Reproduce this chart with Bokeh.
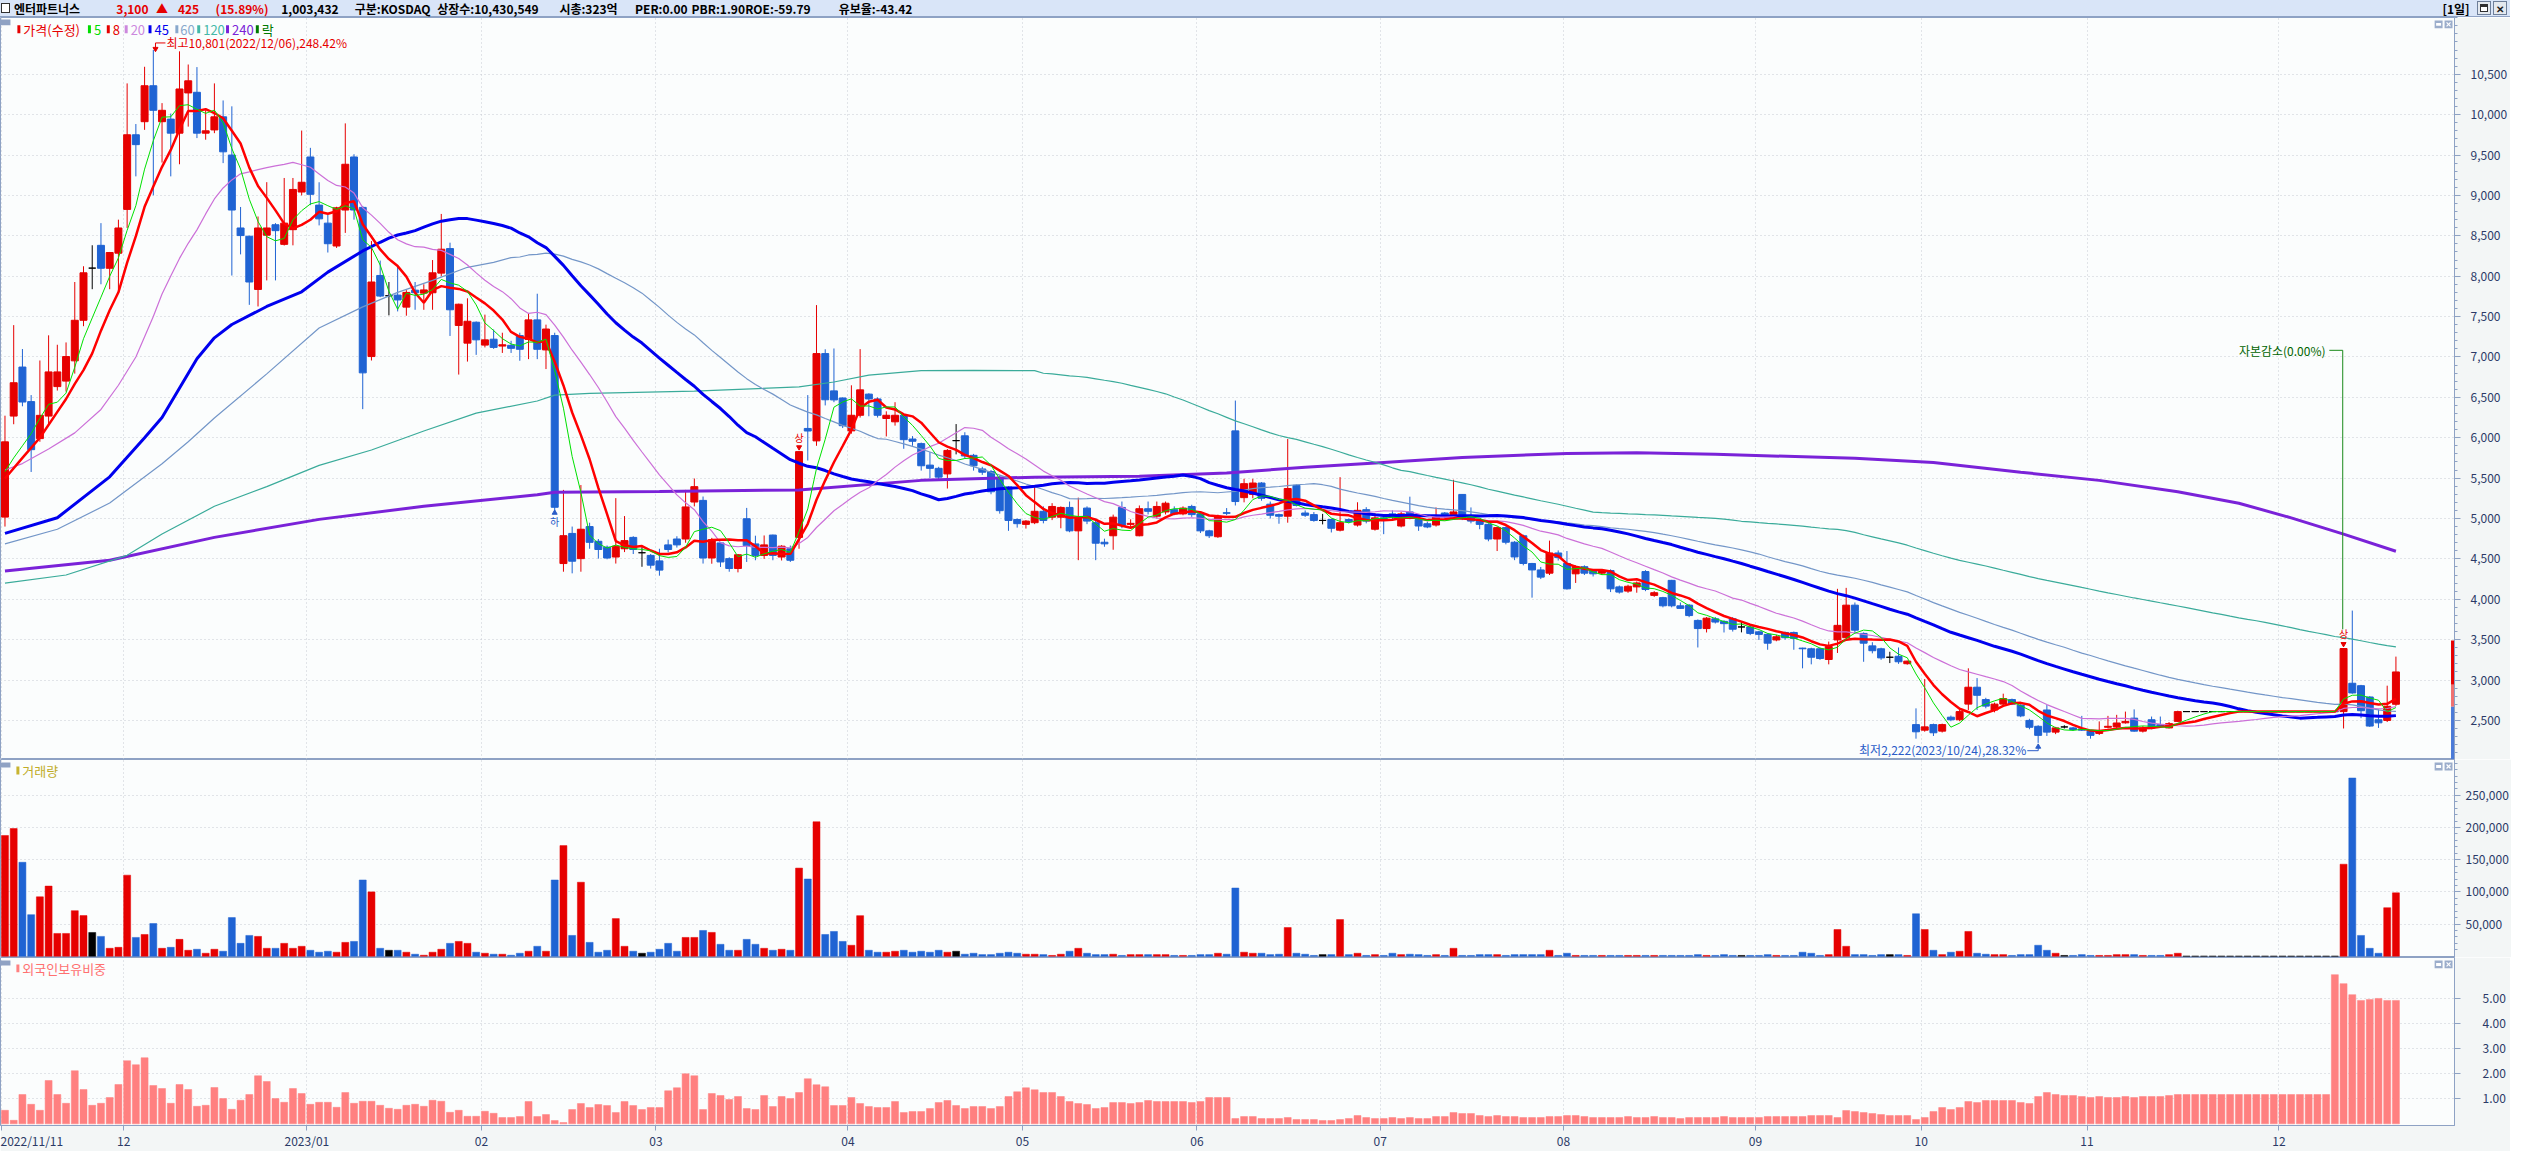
import numpy as np
import pandas as pd
from bokeh.plotting import figure
from bokeh.models import Range1d, FixedTicker, NumeralTickFormatter, CustomJSTickFormatter, Label, Div
from bokeh.layouts import column
from bokeh.embed import file_html
from bokeh.resources import INLINE
from bokeh.core.properties import value

# ------------------------------------------------------------------ data
month_start_idx = [0, 14, 35, 55, 75, 97, 117, 137, 158, 179, 201, 220, 239, 261]
month_labels = ["2022/11/11", "12", "2023/01", "02", "03", "04", "05", "06",
                "07", "08", "09", "10", "11", "12"]

opens = [
    5017, 6268, 6875, 6447, 5989, 6268, 6633, 6701, 6952, 7454,
    8100, 8382, 8098, 8285, 8827, 9751, 9913, 10358, 9913, 9945,
    9771, 10269, 10277, 9771, 9811, 9973, 9500, 8597, 8495, 7836,
    8508, 8637, 8394, 8576, 9042, 9476, 8880, 8657, 8374, 8819,
    9476, 8852, 7005, 8009, 7758, 7766, 7617, 7827, 7790, 7795,
    8038, 8342, 7390, 7171, 7430, 7147, 7220, 7135, 7144, 7265,
    7217, 7459, 7087, 7265, 4442, 4815, 4503, 4900, 4718, 4645,
    4523, 4625, 4766, 4576, 4543, 4475, 4673, 4746, 4746, 5204,
    5224, 4511, 4697, 4503, 4381, 4997, 4685, 4543, 4795, 4523,
    4625, 4766, 6115, 5961, 7042, 6580, 6492, 6085, 6278, 6540,
    6480, 6238, 6197, 6278, 5984, 5927, 5661, 5621, 5552, 5964,
    6024, 5782, 5613, 5581, 5504, 5391, 4988, 4927, 4948, 5089,
    5016, 5016, 5137, 4847, 5129, 4948, 4706, 4786, 5137, 4927,
    4786, 5121, 5028, 5081, 5109, 5057, 5149, 5057, 4847, 4774,
    5072, 6085, 5258, 5298, 5439, 5177, 5048, 5028, 5411, 5068,
    5048, 4976, 4988, 4855, 4988, 4919, 5109, 4867, 5008, 5057,
    4907, 5081, 4988, 4935, 4919, 5068, 5000, 5298, 5016, 4968,
    4927, 4746, 4887, 4706, 4786, 4443, 4363, 4323, 4573, 4443,
    4315, 4403, 4355, 4323, 4355, 4153, 4101, 4153, 4343, 4048,
    4020, 4234, 3919, 3927, 3738, 3637, 3758, 3726, 3758, 3657,
    3657, 3597, 3565, 3496, 3589, 3589, 3395, 3387, 3387, 3254,
    3496, 3524, 3927, 3577, 3423, 3387, 3282, 3294, 3202, 2448,
    2379, 2448, 2367, 2540, 2508, 2702, 2911, 2758, 2629, 2702,
    2758, 2690, 2500, 2427, 2629, 2355, 2419, 2407, 2395, 2367,
    2339, 2415, 2419, 2470, 2528, 2367, 2508, 2448, 2407, 2488,
    2609, 2609, 2609, 2609, 2609, 2609, 2609, 2609, 2609, 2609,
    2609, 2609, 2609, 2609, 2609, 2609, 2609, 2609, 2609, 2960,
    2930, 2790, 2508, 2500, 2700]

highs = [
    6273, 7394, 7098, 6528, 6956, 7268, 7151, 7180, 7928, 8123,
    8383, 8657, 8300, 8700, 10387, 9884, 10593, 10801, 10143, 10014,
    10784, 10621, 10589, 10054, 10387, 10176, 10103, 8857, 8500, 8739,
    9164, 8657, 9216, 9216, 9803, 9589, 9163, 8758, 8860, 9892,
    9510, 8870, 8435, 8193, 7928, 8130, 7827, 7928, 7900, 8200,
    8771, 8415, 7660, 7726, 7440, 7524, 7340, 7300, 7200, 7300,
    7540, 7783, 7400, 7300, 5354, 4900, 5414, 4948, 4746, 4665,
    5252, 5030, 4780, 4645, 4560, 4625, 4738, 4780, 5354, 5495,
    5272, 4760, 4710, 4520, 4560, 5131, 4787, 4790, 4800, 4670,
    4665, 5828, 6528, 7642, 7095, 7105, 6500, 6649, 7097, 6550,
    6500, 6327, 6440, 6290, 6020, 5940, 5822, 5640, 5860, 6169,
    6068, 5800, 5640, 5600, 5530, 5400, 5000, 4980, 5391, 5150,
    5190, 5150, 5210, 5258, 5150, 5000, 4750, 5048, 5210, 4990,
    5161, 5210, 5210, 5210, 5150, 5150, 5170, 5080, 4860, 5048,
    5129, 6460, 5492, 5492, 5450, 5210, 5060, 5984, 5420, 5100,
    5080, 5057, 5000, 5512, 5000, 5201, 5140, 5068, 5020, 5100,
    5080, 5270, 5000, 4960, 5137, 5080, 5480, 5300, 5137, 4980,
    4940, 4900, 4900, 4720, 4800, 4450, 4400, 4726, 4605, 4597,
    4420, 4420, 4370, 4370, 4370, 4170, 4180, 4220, 4360, 4100,
    4030, 4240, 3960, 3940, 3750, 3780, 3780, 3740, 3780, 3720,
    3680, 3610, 3580, 3560, 3600, 3600, 3400, 3400, 3400, 3476,
    4129, 4141, 3960, 3590, 3468, 3400, 3350, 3403, 3240, 2649,
    3012, 2460, 2460, 2560, 2640, 3145, 3024, 2780, 2720, 2831,
    2770, 2700, 2520, 2440, 2690, 2420, 2440, 2420, 2556, 2380,
    2488, 2556, 2569, 2609, 2637, 2430, 2548, 2548, 2480, 2620,
    2609, 2609, 2609, 2609, 2609, 2609, 2609, 2609, 2609, 2609,
    2609, 2609, 2609, 2609, 2609, 2609, 2609, 2609, 3390, 3860,
    2940, 2800, 2637, 2930, 3290]

lows = [
    4900, 6167, 6389, 5576, 5950, 6167, 6584, 6571, 6794, 7381,
    7839, 7900, 7839, 7830, 8597, 9236, 9812, 9001, 9407, 9236,
    9386, 9852, 9710, 9690, 9771, 9400, 8008, 8270, 7645, 7625,
    7948, 7948, 8380, 8382, 9000, 8880, 8629, 8293, 8350, 8536,
    8700, 6354, 6956, 7740, 7515, 7564, 7511, 7584, 7584, 7584,
    8000, 7260, 6782, 6943, 7026, 7118, 7100, 7050, 7050, 6953,
    6973, 6973, 6850, 5090, 4341, 4321, 4341, 4625, 4503, 4495,
    4442, 4584, 4560, 4402, 4380, 4292, 4580, 4640, 4700, 5150,
    4442, 4440, 4400, 4341, 4333, 4462, 4483, 4500, 4483, 4480,
    4462, 4625, 5718, 5900, 6400, 6440, 6120, 6050, 6250, 6266,
    6250, 6016, 6150, 5863, 5900, 5593, 5500, 5472, 5371, 5794,
    5740, 5593, 5540, 5300, 5060, 4847, 4887, 4875, 4930, 4940,
    4980, 4879, 4830, 4484, 4930, 4484, 4650, 4613, 4880, 4880,
    4780, 5050, 5000, 5050, 5040, 5040, 5020, 4820, 4758, 4760,
    5040, 5161, 5200, 5250, 5220, 5000, 4935, 4948, 5150, 5020,
    4960, 4927, 4827, 4840, 4940, 4900, 4940, 4850, 4806, 4980,
    4890, 4990, 4847, 4880, 4900, 5000, 4990, 4980, 4940, 4867,
    4718, 4597, 4680, 4484, 4420, 4020, 4250, 4300, 4480, 4120,
    4202, 4300, 4282, 4300, 4089, 4070, 4080, 4081, 4100, 4030,
    3900, 3900, 3880, 3778, 3403, 3589, 3700, 3589, 3600, 3590,
    3556, 3496, 3375, 3480, 3500, 3375, 3145, 3194, 3250, 3194,
    3335, 3500, 3580, 3226, 3330, 3250, 3210, 3200, 3190, 2274,
    2360, 2307, 2350, 2490, 2490, 2629, 2629, 2650, 2600, 2690,
    2690, 2540, 2390, 2222, 2307, 2330, 2400, 2370, 2370, 2274,
    2320, 2400, 2400, 2460, 2360, 2350, 2390, 2420, 2400, 2480,
    2609, 2609, 2609, 2609, 2609, 2609, 2609, 2609, 2609, 2609,
    2609, 2609, 2609, 2609, 2609, 2609, 2609, 2609, 2400, 2830,
    2528, 2420, 2407, 2480, 2680]

closes = [
    5949, 6681, 6442, 5852, 6277, 6815, 6815, 7005, 7454, 8042,
    8100, 8098, 8293, 8597, 9751, 9629, 10358, 10054, 10054, 9771,
    10318, 10419, 9771, 9800, 9973, 9540, 8819, 8503, 7928, 8597,
    8597, 8564, 8657, 9074, 9163, 9014, 8710, 8402, 8847, 9386,
    8819, 6803, 7928, 7754, 7758, 7706, 7799, 7795, 7830, 8042,
    8334, 7584, 7653, 7442, 7212, 7212, 7118, 7151, 7107, 7095,
    7459, 7095, 7346, 5139, 4787, 4471, 4867, 4705, 4616, 4511,
    4657, 4726, 4616, 4576, 4422, 4361, 4616, 4673, 5143, 5394,
    4511, 4738, 4462, 4381, 4551, 4665, 4543, 4673, 4543, 4657,
    4483, 5828, 6083, 7042, 6470, 6468, 6149, 6278, 6593, 6480,
    6278, 6278, 6278, 5976, 5956, 5653, 5621, 5512, 5843, 5964,
    5774, 5653, 5573, 5331, 5097, 4976, 4936, 4968, 5089, 4976,
    5149, 5137, 4847, 5016, 4968, 4694, 4686, 5016, 4915, 4940,
    5121, 5089, 5149, 5189, 5057, 5129, 5048, 4847, 4786, 5028,
    5064, 5210, 5431, 5439, 5250, 5040, 5028, 5371, 5161, 5040,
    4976, 4976, 4879, 4948, 4960, 5101, 4968, 5008, 4988, 5016,
    5057, 5000, 4907, 4895, 5028, 5028, 5081, 5008, 4968, 4927,
    4746, 4887, 4706, 4524, 4443, 4363, 4274, 4573, 4516, 4129,
    4403, 4323, 4315, 4355, 4129, 4089, 4161, 4202, 4121, 4081,
    3919, 3919, 3887, 3798, 3637, 3766, 3718, 3698, 3629, 3657,
    3577, 3565, 3456, 3536, 3524, 3516, 3387, 3282, 3266, 3415,
    3677, 3927, 3617, 3456, 3363, 3274, 3282, 3226, 3234, 2359,
    2420, 2347, 2448, 2508, 2609, 2911, 2811, 2677, 2702, 2770,
    2702, 2556, 2415, 2315, 2355, 2407, 2419, 2387, 2379, 2315,
    2367, 2427, 2468, 2488, 2367, 2407, 2407, 2428, 2460, 2609,
    2609, 2609, 2609, 2609, 2609, 2609, 2609, 2609, 2609, 2609,
    2609, 2609, 2609, 2609, 2609, 2609, 2609, 2609, 3390, 2840,
    2620, 2430, 2470, 2675, 3100]

volumes = [
    187700, 198500, 146000, 64600, 92300, 109000, 35400, 35400, 70800, 63100,
    36900, 30800, 12300, 13800, 126000, 29200, 33800, 50800, 12300, 13800,
    26200, 9200, 10800, 4600, 10800, 7700, 60000, 20000, 32300, 30800,
    12300, 12300, 20000, 12300, 15400, 9200, 6200, 7700, 6200, 21500,
    23000, 118500, 100000, 12300, 9200, 9200, 6200, 3100, 1500, 6200,
    10800, 20000, 23000, 20000, 6200, 4600, 3100, 3100, 1500, 4600,
    7700, 15400, 7700, 118500, 172000, 32300, 115000, 21500, 6200, 9200,
    58500, 15400, 7700, 4600, 6200, 10800, 20000, 7700, 29200, 29200,
    40000, 37000, 18500, 9200, 9200, 26200, 18500, 12300, 9200, 10800,
    9200, 137000, 120000, 209000, 33800, 38500, 23000, 17000, 63000, 9200,
    6200, 6200, 7700, 9200, 6200, 7700, 6200, 9200, 6200, 7700,
    3100, 4600, 2500, 2500, 4600, 6200, 4600, 3100, 3100, 2500,
    1200, 3100, 7700, 12300, 4600, 2500, 2500, 3100, 1200, 2500,
    2500, 2500, 2500, 2500, 1200, 1200, 1200, 2500, 2500, 4600,
    3100, 106000, 6200, 4600, 4600, 2500, 3100, 44600, 4600, 3100,
    1200, 2500, 2500, 57000, 2500, 4600, 1200, 2500, 1200, 4600,
    2500, 3100, 2500, 1200, 2500, 1200, 12300, 1200, 1200, 2500,
    2500, 2500, 1200, 2500, 2500, 2500, 2500, 9200, 1200, 4600,
    1200, 1200, 1200, 1200, 1200, 1200, 1200, 1200, 1200, 1200,
    1200, 1200, 1200, 1200, 2500, 1200, 1200, 2500, 1200, 1200,
    1200, 1200, 2500, 1200, 1200, 1200, 6200, 4600, 1200, 2500,
    41500, 15400, 2500, 2500, 1200, 2500, 2500, 2500, 1200, 66000,
    41500, 9200, 2500, 6200, 7700, 38500, 4600, 3100, 2500, 2500,
    1200, 2500, 2500, 17000, 9200, 4600, 1200, 1200, 2500, 1200,
    1200, 1200, 2500, 2500, 2500, 1200, 1200, 1200, 2500, 4600,
    0, 0, 0, 0, 0, 0, 0, 0, 0, 0,
    0, 0, 0, 0, 0, 0, 0, 0, 143000, 277000,
    32300, 12300, 4600, 75400, 98500]

foreign = [
    0.54, 0.14, 1.17, 0.78, 0.54, 1.73, 1.17, 0.82, 2.12, 1.37,
    0.74, 0.82, 1.05, 1.57, 2.52, 2.36, 2.64, 1.53, 1.41, 0.82,
    1.57, 1.37, 0.70, 0.74, 1.45, 1.01, 0.58, 0.94, 1.17, 1.92,
    1.69, 1.01, 0.86, 1.41, 1.21, 0.78, 0.86, 0.86, 0.66, 1.25,
    0.82, 0.90, 0.90, 0.74, 0.62, 0.58, 0.74, 0.78, 0.70, 0.94,
    0.90, 0.46, 0.54, 0.30, 0.30, 0.50, 0.42, 0.25, 0.25, 0.29,
    0.89, 0.29, 0.37, 0.13, 0.05, 0.57, 0.81, 0.65, 0.77, 0.73,
    0.45, 0.89, 0.73, 0.57, 0.65, 0.65, 1.32, 1.44, 2.00, 1.92,
    0.57, 1.21, 1.13, 0.97, 1.09, 0.61, 0.57, 1.13, 0.69, 1.09,
    1.01, 1.25, 1.80, 1.56, 1.48, 0.73, 0.73, 1.05, 0.81, 0.69,
    0.65, 0.65, 0.89, 0.45, 0.49, 0.49, 0.61, 0.85, 0.93, 0.73,
    0.61, 0.69, 0.69, 0.61, 0.69, 1.09, 1.28, 1.44, 1.36, 1.25,
    1.25, 1.09, 0.89, 0.81, 0.77, 0.61, 0.65, 0.85, 0.85, 0.81,
    0.85, 0.93, 0.89, 0.89, 0.89, 0.89, 0.85, 0.89, 1.05, 1.05,
    1.05, 0.21, 0.29, 0.29, 0.21, 0.21, 0.21, 0.25, 0.17, 0.17,
    0.17, 0.13, 0.13, 0.17, 0.21, 0.33, 0.25, 0.21, 0.21, 0.25,
    0.21, 0.25, 0.21, 0.21, 0.29, 0.29, 0.45, 0.41, 0.41, 0.33,
    0.29, 0.33, 0.29, 0.29, 0.25, 0.25, 0.25, 0.29, 0.29, 0.33,
    0.33, 0.29, 0.25, 0.25, 0.25, 0.25, 0.29, 0.25, 0.25, 0.29,
    0.25, 0.25, 0.21, 0.25, 0.25, 0.25, 0.25, 0.29, 0.25, 0.25,
    0.25, 0.25, 0.29, 0.29, 0.29, 0.29, 0.29, 0.33, 0.33, 0.33,
    0.25, 0.53, 0.49, 0.45, 0.41, 0.37, 0.33, 0.33, 0.33, 0.17,
    0.25, 0.49, 0.65, 0.57, 0.65, 0.89, 0.85, 0.93, 0.93, 0.93,
    0.93, 0.85, 0.81, 1.09, 1.25, 1.17, 1.13, 1.13, 1.09, 1.05,
    1.09, 1.05, 1.05, 1.09, 1.05, 1.09, 1.09, 1.09, 1.13, 1.17,
    1.17, 1.17, 1.17, 1.17, 1.17, 1.17, 1.17, 1.17, 1.17, 1.17,
    1.17, 1.17, 1.17, 1.17, 1.17, 1.17, 1.17, 5.96, 5.60, 5.16,
    4.93, 4.97, 5.01, 4.93, 4.93]

ma5_head_idx = [0, 1, 2, 3]
ma5_head_val = [5580, 5750, 5900, 6050]
ma8_head_idx = [0, 2, 4, 6]
ma8_head_val = [5495, 5750, 6000, 6320]
ma20_head_idx = [0, 2, 5, 8, 11, 13, 15, 17, 18]
ma20_head_val = [5600, 5680, 5860, 6060, 6350, 6650, 7000, 7500, 7780]
ma45_head_idx = [0, 6, 12, 16, 18, 22, 24, 26, 30, 34, 37, 41, 43]
ma45_head_val = [4815, 5009, 5516, 6000, 6250, 6977, 7237, 7402, 7625, 7807, 8050, 8313, 8420]
ma60_head_idx = [0, 6, 12, 18, 21, 24, 30, 36, 41, 45, 49, 53, 56, 58]
ma60_head_val = [4685, 4867, 5191, 5677, 5950, 6244, 6791, 7358, 7620, 7800, 7949, 8110, 8171, 8230]
ma120_head_idx = [0, 7, 14, 18, 24, 30, 36, 42, 48, 54, 61, 63, 67, 79, 91, 95, 99, 105, 111, 118]
ma120_head_val = [4199, 4300, 4544, 4807, 5151, 5394, 5657, 5848, 6083, 6305, 6455, 6528,
                  6549, 6577, 6629, 6690, 6774, 6830, 6834, 6830]
ma240_idx = [0, 12, 24, 36, 48, 61, 63, 75, 91, 105, 118, 130, 140, 149, 158, 167, 179,
             187, 196, 212, 221, 231, 240, 249, 256, 262, 268, 274]
ma240_val = [4349, 4483, 4766, 4989, 5151, 5293, 5325, 5335, 5354, 5472, 5512, 5524, 5564,
             5633, 5693, 5754, 5806, 5814, 5794, 5746, 5693, 5573, 5472, 5331, 5189, 5008,
             4806, 4595]

# today's range bar at right edge (read)
today_red = (2940, 3490)
today_pink = (2670, 2940)
today_blue = (2016, 2670)

# ------------------------------------------------------------------ style / geometry
KF = "Noto Sans CJK KR"
RED = "#e60000"
BLUE = "#1f63d3"
BLACK = "#000000"
BG = "#fbfdfd"
AXBG = "#f3f6f6"
BORDER = "#8ea2c4"
GRID = "#c6cbd2"
LABC = "#2b3a67"

TOTAL_W = 2510
FRAME_W = 2454
AX_W = 56
H_HEAD = 17
H_PRICE = 742
H_VOL = 198
H_FR = 168
H_XAX = 24

REF_W = 2470.0
SP = 8.783
X0 = -4.5 / SP
X1 = (REF_W - 4.5) / SP
P_TOP, P_BOT = 11203.0, 2016.0
V_TOP, V_BOT = 305800.0, -2000.0
F_TOP, F_BOT = 6.645, -0.067


def px2x(px):
    return X0 + px / REF_W * (X1 - X0)


def py2p(py):
    return P_TOP - (py - 17.0) / 758.0 * (P_TOP - P_BOT)


def py2v(py):
    return V_TOP - (py - 776.0) / 199.0 * (V_TOP - V_BOT)


def py2f(py):
    return F_TOP - (py - 976.0) / 170.0 * (F_TOP - F_BOT)


N = min(len(opens), len(highs), len(lows), len(closes), len(volumes), len(foreign))
o = np.array(opens[:N], float)
h = np.array(highs[:N], float)
l = np.array(lows[:N], float)
c = np.array(closes[:N], float)
vol = np.array(volumes[:N], float)
fr = np.array(foreign[:N], float)
idx = np.arange(N)
cols = np.where(c > o, RED, np.where(c < o, BLUE, BLACK))

xr = Range1d(X0, X1)
month_pos = [i - 0.4 for i in month_start_idx]


def base_fig(fh, yr, with_xaxis=False):
    p = figure(frame_width=FRAME_W, frame_height=fh, x_range=xr, y_range=yr,
               y_axis_location="right", x_axis_location=("below" if with_xaxis else None),
               toolbar_location=None, output_backend="svg",
               min_border_left=0, min_border_right=AX_W, min_border_top=0,
               min_border_bottom=(H_XAX if with_xaxis else 0),
               background_fill_color=BG, border_fill_color=AXBG,
               outline_line_color=BORDER, outline_line_width=1)
    p.xgrid.ticker = FixedTicker(ticks=month_pos)
    for g in (p.xgrid, p.ygrid):
        g.grid_line_color = GRID
        g.grid_line_dash = "1 3"
        g.grid_line_width = 1
    return p


def style_yaxis(p, ticks, minor, fmt, standoff):
    ax = p.yaxis[0]
    ax.ticker = FixedTicker(ticks=ticks, minor_ticks=minor)
    ax.formatter = fmt
    ax.axis_line_color = BORDER
    ax.major_tick_line_color = BORDER
    ax.minor_tick_line_color = BORDER
    ax.major_tick_out = 6
    ax.major_tick_in = 0
    ax.minor_tick_out = 3
    ax.minor_tick_in = 0
    ax.major_label_text_font = KF
    ax.major_label_text_font_size = "12px"
    ax.major_label_text_color = LABC
    ax.major_label_standoff = standoff
    p.ygrid.ticker = FixedTicker(ticks=ticks)


def txt(p, fx, fy, x, y, s, color, size="12px", align="left", style="normal", base="middle"):
    p.text(x=[fx(x)], y=[fy(y)], text=[s], text_color=color, text_font=value(KF),
           text_font_size=value(size), text_font_style=value(style),
           text_align=align, text_baseline=base)


def box(p, fx, fy, x0, x1, y0, y1, fill, line=None):
    p.quad(left=[fx(x0)], right=[fx(x1)], top=[fy(y0)], bottom=[fy(y1)],
           fill_color=fill, line_color=line)


def win_buttons(p, fy, ytop):
    for x0 in (2450, 2460):
        box(p, px2x, fy, x0, x0 + 8, ytop, ytop + 8, "#9badcb", None)
    box(p, px2x, fy, 2451.5, 2456.5, ytop + 2.5, ytop + 5.5, "#ffffff", None)
    p.segment(x0=[px2x(2462), px2x(2462)], y0=[fy(ytop + 2), fy(ytop + 6)],
              x1=[px2x(2466), px2x(2466)], y1=[fy(ytop + 6), fy(ytop + 2)],
              line_color="#ffffff", line_width=1.2)


# ------------------------------------------------------------------ header bar (HTML)
hs = TOTAL_W / 2526.0
head_items = [
    (14, "엔터파트너스", "#000000"),
    (117, "3,100", RED), (157, "▲", RED), (179, "425", RED), (217, "(15.89%)", RED),
    (283, "1,003,432", "#000000"), (357, "구분:KOSDAQ", "#000000"),
    (440, "상장수:10,430,549", "#000000"), (563, "시총:323억", "#000000"),
    (639, "PER:0.00", "#000000"), (696, "PBR:1.90", "#000000"),
    (750, "ROE:-59.79", "#000000"), (844, "유보율:-43.42", "#000000"),
    (2458, "[1일]", "#000000"),
]
spans = []
spans.append('<span style="position:absolute;left:1px;top:3px;width:9px;height:10px;'
             'background:#ffffff;border:1px solid #303030;box-sizing:border-box;"></span>')
for x, s, col in head_items:
    spans.append(f'<span style="position:absolute;left:{x * hs:.1f}px;top:0px;color:{col};">{s}</span>')
for x0 in (2493, 2509):
    spans.append(f'<span style="position:absolute;left:{x0 * hs:.1f}px;top:1px;width:14px;height:14px;'
                 'background:#e4e9ef;border:1px solid #6e7f99;box-sizing:border-box;"></span>')
spans.append(f'<span style="position:absolute;left:{2496 * hs:.1f}px;top:4px;width:8px;height:8px;'
             'background:#ffffff;border:1px solid #303030;border-top:3px solid #303030;'
             'box-sizing:border-box;"></span>')
spans.append(f'<span style="position:absolute;left:{2511.5 * hs:.1f}px;top:0px;font-size:10px;'
             'color:#202020;">✕</span>')
head_html = ('<div style="position:relative;width:%dpx;height:%dpx;background:#d9e5f8;'
             'border-bottom:1px solid #8ea2c4;box-sizing:border-box;font-family:\'Noto Sans CJK KR\';'
             'font-size:12px;font-weight:bold;line-height:17px;white-space:nowrap;">%s</div>'
             % (TOTAL_W, H_HEAD, "".join(spans)))
ph = Div(text=head_html, width=TOTAL_W, height=H_HEAD, margin=(0, 0, 0, 0))

# ------------------------------------------------------------------ price panel
pp = base_fig(H_PRICE, Range1d(P_BOT, P_TOP))
style_yaxis(pp, list(range(2500, 10501, 500)), list(range(2100, 11201, 100)),
            NumeralTickFormatter(format="0,0"), 10)

cs = pd.Series(c)


def ma_line(n, head_idx, head_val):
    m = cs.rolling(n).mean()
    xs = list(head_idx) + list(range(n - 1, N))
    ys = list(head_val) + list(m.iloc[n - 1:].values)
    return xs, ys


# candles
pp.segment(x0=idx, y0=l, x1=idx, y1=h, line_color=cols, line_width=1)
pp.vbar(x=idx, width=0.8, top=np.maximum(o, c), bottom=np.minimum(o, c),
        fill_color=cols, line_color=cols, line_width=1)

# moving averages
pp.line(x=ma240_idx, y=ma240_val, line_color="#7a22d8", line_width=3)
x120, y120 = ma_line(120, ma120_head_idx, ma120_head_val)
pp.line(x=x120, y=y120, line_color="#3aab9a", line_width=1.2)
x60, y60 = ma_line(60, ma60_head_idx, ma60_head_val)
pp.line(x=x60, y=y60, line_color="#7396c8", line_width=1.2)
x45, y45 = ma_line(45, ma45_head_idx, ma45_head_val)
pp.line(x=x45, y=y45, line_color="#0000ee", line_width=3)
x20, y20 = ma_line(20, ma20_head_idx, ma20_head_val)
pp.line(x=x20, y=y20, line_color="#cc70d8", line_width=1.2)
x8, y8 = ma_line(8, ma8_head_idx, ma8_head_val)
pp.line(x=x8, y=y8, line_color="#ff0000", line_width=2.5)
x5, y5 = ma_line(5, ma5_head_idx, ma5_head_val)
pp.line(x=x5, y=y5, line_color="#00e000", line_width=1)

# legend row
box(pp, px2x, py2p, 0, 10, 19, 25, "#8fa2c3")
legend_items = [
    (17, 23, "가격(수정)", RED, RED),
    (88, 94, "5", "#00dd00", "#00dd00"),
    (107, 113, "8", RED, RED),
    (125, 131, "20", "#cc88dd", "#cc88dd"),
    (149, 155, "45", "#0000ee", "#0000ee"),
    (176, 181, "60", "#88a8cc", "#88a8cc"),
    (198, 204, "120", "#44b8a8", "#44b8a8"),
    (227, 233, "240", "#7a22d8", "#7a22d8"),
    (257, 263, "락", "#007a00", "#007a00"),
]
for bx, tx, s, bc, tc in legend_items:
    box(pp, px2x, py2p, bx, bx + 3, 25, 33, bc)
    txt(pp, px2x, py2p, tx, 29.5, s, tc, size="13px")

# high annotation
txt(pp, px2x, py2p, 167, 43, "최고10,801(2022/12/06),248.42%", RED, size="12px")
pp.line(x=[px2x(166), px2x(156), px2x(156)], y=[py2p(43), py2p(43), py2p(48)],
        line_color=RED, line_width=1)
pp.scatter(x=[px2x(156)], y=[py2p(49)], marker="inverted_triangle", size=5,
           fill_color=RED, line_color=RED)

# low annotation
txt(pp, px2x, py2p, 2039, 765, "최저2,222(2023/10/24),28.32%", "#2a5cc8", size="12px", align="right")
pp.line(x=[px2x(2040), px2x(2051), px2x(2051)], y=[py2p(766), py2p(766), py2p(763)],
        line_color="#2a5cc8", line_width=1)
pp.scatter(x=[px2x(2051)], y=[py2p(762)], marker="triangle", size=5,
           fill_color="#2a5cc8", line_color="#2a5cc8")

# capital reduction annotation
txt(pp, px2x, py2p, 2253, 357, "자본감소(0.00%)", "#006400", size="12px")
pp.line(x=[px2x(2344), px2x(2357.5), px2x(2357.5)], y=[py2p(357), py2p(357), py2p(642)],
        line_color="#1a8a1a", line_width=1)

# limit up / down marks
for cx, ty, ay in ((803.8, 446, 456), (2358.3, 646, 657)):
    txt(pp, px2x, py2p, cx, ty, "상", RED, size="10px", align="center")
    pp.scatter(x=[px2x(cx)], y=[py2p(ay)], marker="inverted_triangle", size=5,
               fill_color=RED, line_color=RED)
pp.scatter(x=[px2x(557.8)], y=[py2p(523)], marker="triangle", size=5,
           fill_color="#2a5cc8", line_color="#2a5cc8")
txt(pp, px2x, py2p, 557.8, 532, "하", "#2a5cc8", size="10px", align="center")

# today's range bar at the right edge
for (lo, hi), colr in ((today_red, RED), (today_pink, "#f07070"), (today_blue, "#4a7ad8")):
    pp.quad(left=[px2x(2466.5)], right=[px2x(2470)], bottom=[lo], top=[hi],
            fill_color=colr, line_color=None)

win_buttons(pp, py2p, 20)

# current price marker on the axis
pp.add_layout(Label(x=px2x(2471), y=c[-1], text="◀", text_color=RED, text_font=KF,
                    text_font_size="10px", text_baseline="middle", text_align="left"))
pp.add_layout(Label(x=px2x(2484), y=c[-1], text="3,100", text_color="#ffffff",
                    text_font=KF, text_font_size="12px", text_baseline="middle",
                    text_align="left", background_fill_color=RED))
pp.add_layout(Label(x=px2x(2484), y=py2p(700), text="15.89%", text_color=RED,
                    text_font=KF, text_font_size="12px", text_baseline="middle",
                    text_align="left", background_fill_color="#ffffff"))

# ------------------------------------------------------------------ volume panel
pv = base_fig(H_VOL, Range1d(V_BOT, V_TOP))
style_yaxis(pv, list(range(50000, 250001, 50000)), list(range(10000, 300001, 10000)),
            NumeralTickFormatter(format="0,0"), 5)
pv.vbar(x=idx, width=0.8, top=vol, bottom=0, fill_color=cols, line_color=cols, line_width=0.5)
box(pv, px2x, py2v, 0, 10, 779, 784, "#8fa2c3")
box(pv, px2x, py2v, 16, 19, 783, 791, "#c8b430")
txt(pv, px2x, py2v, 22, 787.5, "거래량", "#c0ac28", size="13px")
win_buttons(pv, py2v, 779)
pv.add_layout(Label(x=px2x(2500), y=py2v(964), text="× 10", text_color=LABC, text_font=KF,
                    text_font_size="12px", text_baseline="middle", text_align="left"))

# ------------------------------------------------------------------ foreign ownership panel
pf = base_fig(H_FR, Range1d(F_BOT, F_TOP), with_xaxis=True)
style_yaxis(pf, [1, 2, 3, 4, 5], [1, 2, 3, 4, 5], NumeralTickFormatter(format="0.00"), 22)
pf.vbar(x=idx, width=0.8, top=fr, bottom=0, fill_color="#ff8080", line_color="#ff8080",
        line_width=0.5)
box(pf, px2x, py2f, 0, 10, 979, 984, "#8fa2c3")
box(pf, px2x, py2f, 16, 19, 983, 991, "#ff8080")
txt(pf, px2x, py2f, 22, 987.5, "외국인보유비중", "#ff7070", size="13px")
win_buttons(pf, py2f, 979)

xa = pf.xaxis[0]
xa.ticker = FixedTicker(ticks=month_pos)
xa.formatter = CustomJSTickFormatter(args=dict(pos=month_pos, names=month_labels), code="""
    for (let k = 0; k < pos.length; k++) {
        if (Math.abs(pos[k] - tick) < 0.05) { return names[k]; }
    }
    return "";
""")
xa.major_label_text_align = "left"
xa.major_label_text_font = KF
xa.major_label_text_font_size = "12px"
xa.major_label_text_color = LABC
xa.major_tick_out = 5
xa.major_tick_in = 0
xa.major_tick_line_color = BORDER
xa.minor_tick_line_color = None
xa.axis_line_color = BORDER
xa.major_label_standoff = 1

layout = column(ph, pp, pv, pf, spacing=0)

open("out.html", "w").write(file_html(layout, INLINE, title="엔터파트너스"))
